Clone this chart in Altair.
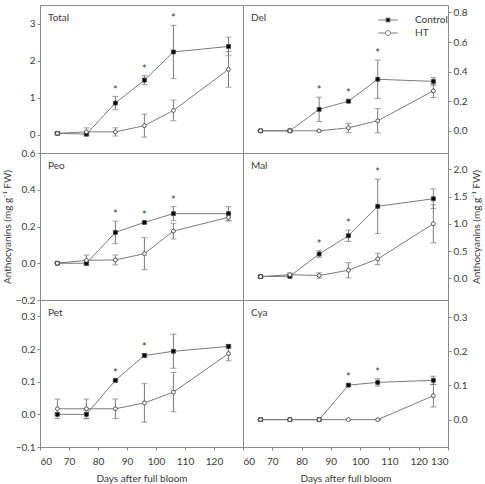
import altair as alt
import pandas as pd

# Sampling dates (days after full bloom)
days = [66, 76, 86, 96, 106, 125]

panel_names = ["Total", "Del", "Peo", "Mal", "Pet", "Cya"]

# Mean anthocyanin content (mg g-1 FW) and standard deviations
control_mean = {
    "Total": [0.03, 0.01, 0.85, 1.47, 2.23, 2.38],
    "Del":   [0.0, 0.0, 0.145, 0.20, 0.348, 0.334],
    "Peo":   [0.0, 0.0, 0.168, 0.222, 0.27, 0.27],
    "Mal":   [0.03, 0.035, 0.445, 0.78, 1.32, 1.46],
    "Pet":   [0.0, 0.0, 0.104, 0.18, 0.193, 0.208],
    "Cya":   [0.0, 0.0, 0.0, 0.101, 0.109, 0.115],
}
control_sd = {
    "Total": [0.02, 0.02, 0.18, 0.12, 0.72, 0.25],
    "Del":   [0.0, 0.0, 0.082, 0.01, 0.13, 0.026],
    "Peo":   [0.0, 0.005, 0.061, 0.005, 0.038, 0.038],
    "Mal":   [0.02, 0.02, 0.06, 0.105, 0.5, 0.18],
    "Pet":   [0.0, 0.013, 0.003, 0.006, 0.052, 0.005],
    "Cya":   [0.0, 0.0, 0.0, 0.003, 0.011, 0.012],
}
ht_mean = {
    "Total": [0.03, 0.07, 0.07, 0.24, 0.65, 1.76],
    "Del":   [0.0, 0.0, 0.0, 0.02, 0.068, 0.27],
    "Peo":   [0.0, 0.016, 0.018, 0.052, 0.175, 0.25],
    "Mal":   [0.03, 0.065, 0.05, 0.146, 0.354, 1.0],
    "Pet":   [0.017, 0.017, 0.017, 0.035, 0.068, 0.186],
    "Cya":   [0.0, 0.0, 0.0, 0.0, 0.0, 0.07],
}
ht_sd = {
    "Total": [0.02, 0.11, 0.11, 0.31, 0.28, 0.48],
    "Del":   [0.0, 0.0, 0.0, 0.03, 0.082, 0.045],
    "Peo":   [0.0, 0.029, 0.027, 0.087, 0.043, 0.02],
    "Mal":   [0.02, 0.03, 0.05, 0.14, 0.105, 0.35],
    "Pet":   [0.03, 0.03, 0.03, 0.059, 0.06, 0.022],
    "Cya":   [0.0, 0.0, 0.0, 0.0, 0.0, 0.033],
}
# Dates with a significant Control vs HT difference
significant_days = {
    "Total": [86, 96, 106],
    "Del":   [86, 96, 106],
    "Peo":   [86, 96, 106],
    "Mal":   [86, 96, 106],
    "Pet":   [86, 96],
    "Cya":   [96, 106],
}
y_domains = {
    "Total": [-0.5, 3.5],
    "Del":   [-0.15, 0.85],
    "Peo":   [-0.2, 0.6],
    "Mal":   [-0.4, 2.3],
    "Pet":   [-0.1, 0.35],
    "Cya":   [-0.08, 0.35],
}
y_ticks = {
    "Total": [0, 1, 2, 3],
    "Del":   [0.0, 0.2, 0.4, 0.6, 0.8],
    "Peo":   [-0.2, 0.0, 0.2, 0.4, 0.6],
    "Mal":   [0.0, 0.5, 1.0, 1.5, 2.0],
    "Pet":   [-0.1, 0.0, 0.1, 0.2, 0.3],
    "Cya":   [0.0, 0.1, 0.2, 0.3],
}
x_ticks_left = [60, 70, 80, 90, 100, 110, 120]
x_ticks_right = [60, 70, 80, 90, 100, 110, 120, 130]

y_title = "Anthocyanins (mg g\u207b\u00b9 FW)"
x_title = "Days after full bloom"

FONT = "Lato"
FS = 10
GREY = "#8a8a8a"
LINE_GREY = "#7a7a7a"
TEXT = "#3a3a3a"

# Legend symbols: a short line with the marker in the middle
control_sym = "M-1.5,0H-0.3M0.3,0H1.5M-0.3,-0.3H0.3V0.3H-0.3Z"
ht_sym = ("M-1.5,0H-0.38M0.38,0H1.5M-0.38,0A0.38,0.38 0 1,0 0.38,0"
          "A0.38,0.38 0 1,0 -0.38,0Z")

series_domain = ["Control", "HT"]
fill_scale = alt.Scale(domain=series_domain, range=["#000000", "#ffffff"])


def panel_frame(name):
    rows = []
    for series, means, sds in (("Control", control_mean, control_sd),
                               ("HT", ht_mean, ht_sd)):
        for d, m, s in zip(days, means[name], sds[name]):
            rows.append({"day": d, "value": m, "lo": m - s, "hi": m + s,
                         "series": series})
    return pd.DataFrame(rows)


def star_frame(name):
    lo, hi = y_domains[name]
    offset = 0.06 * (hi - lo)
    rows = []
    for d in significant_days[name]:
        i = days.index(d)
        top = max(control_mean[name][i] + control_sd[name][i],
                  ht_mean[name][i] + ht_sd[name][i])
        rows.append({"day": d, "pos": top + offset, "mark": "*"})
    return pd.DataFrame(rows)


def make_panel(idx):
    name = panel_names[idx]
    right = idx % 2 == 1
    bottom = idx >= 4
    width = 205 if right else 203
    height = 148 if idx < 2 else 147

    if bottom:
        x_axis = alt.Axis(values=x_ticks_right if right else x_ticks_left,
                          tickCount=20, title=x_title, grid=False, tickSize=3,
                          labelPadding=6, titlePadding=7, format="d",
                          labelOverlap=False)
    else:
        x_axis = None
    x_enc = alt.X("day:Q", scale=alt.Scale(domain=[60, 130], nice=False, zero=False),
                  axis=x_axis)

    y_axis = alt.Axis(values=y_ticks[name], tickCount=20,
                      orient="right" if right else "left",
                      format="d" if name == "Total" else ".1f",
                      title=y_title if name in ("Peo", "Mal") else None,
                      titleAngle=270, titleBaseline="top" if right else "bottom",
                      grid=False, tickSize=3, labelPadding=2,
                      titlePadding=5 if right else 3, labelOverlap=False)
    y_scale = alt.Scale(domain=y_domains[name], nice=False, zero=False)

    df = panel_frame(name)
    base = alt.Chart(df)

    line = base.mark_line(color=LINE_GREY, strokeWidth=1).encode(
        x=x_enc, y=alt.Y("value:Q", scale=y_scale, axis=y_axis),
        detail="series:N")
    bars = base.mark_rule(color=LINE_GREY, strokeWidth=1).encode(
        x="day:Q", y="lo:Q", y2="hi:Q")
    cap_lo = base.mark_tick(color=LINE_GREY, orient="horizontal", size=6,
                            thickness=1).encode(x="day:Q", y="lo:Q")
    cap_hi = base.mark_tick(color=LINE_GREY, orient="horizontal", size=6,
                            thickness=1).encode(x="day:Q", y="hi:Q")
    pts = base.mark_point(size=15, strokeWidth=0.9, opacity=1,
                          stroke="#444444").encode(
        x="day:Q", y="value:Q",
        shape=alt.Shape("series:N", scale=alt.Scale(domain=series_domain,
                                                     range=["square", "circle"]),
                        legend=None),
        fill=alt.Fill("series:N", scale=fill_scale, legend=None),
        order=alt.Order("series:N"))

    stars = alt.Chart(star_frame(name)).mark_text(
        font=FONT, fontSize=11, color=TEXT, baseline="middle", dy=3).encode(
        x="day:Q", y="pos:Q", text="mark:N")

    label = alt.Chart(pd.DataFrame({"name": [name]})).mark_text(
        font=FONT, fontSize=FS, color=TEXT, align="left", baseline="middle").encode(
        x=alt.value(8), y=alt.value(13), text="name:N")

    layers = [line, bars, cap_lo, cap_hi, pts, stars, label]

    if name == "Del":
        # Key for the two treatments; its own points lie outside the x domain
        leg_spec = alt.Legend(title=None, orient="none", legendX=138, legendY=8,
                              symbolSize=169, symbolStrokeWidth=1,
                              labelFont=FONT, labelFontSize=FS,
                              labelColor=TEXT, labelOffset=20, rowPadding=1,
                              padding=0)
        legend_df = pd.DataFrame({"series": series_domain, "day": [0, 0],
                                  "value": [0, 0]})
        leg = alt.Chart(legend_df).mark_point(
            size=169, opacity=1, filled=False, strokeWidth=1, clip=True).encode(
            x="day:Q", y="value:Q",
            shape=alt.Shape("series:N", scale=alt.Scale(domain=series_domain,
                                                         range=[control_sym, ht_sym]),
                            legend=leg_spec),
            fill=alt.Fill("series:N", scale=fill_scale, legend=leg_spec),
            stroke=alt.Stroke("series:N",
                              scale=alt.Scale(domain=series_domain,
                                              range=[LINE_GREY, LINE_GREY]),
                              legend=leg_spec),
        )
        layers.append(leg)
        return alt.layer(*layers).resolve_scale(
            shape="independent", fill="independent", stroke="independent"
        ).properties(width=width, height=height)

    return alt.layer(*layers).properties(width=width, height=height)


panels = [make_panel(i) for i in range(6)]

# Fixed page: the first panel's plot area starts at (40, 5)
chart = alt.concat(*panels, columns=2, spacing=0, bounds="flush").properties(
    autosize=alt.AutoSizeParams(type="none"),
    padding={"left": 40, "top": 5, "right": 445, "bottom": 479}
).configure_view(
    stroke=GREY, strokeWidth=1
).configure_axis(
    domainColor=GREY, tickColor=GREY, labelColor=TEXT, titleColor=TEXT,
    labelFont=FONT, titleFont=FONT, labelFontSize=FS, titleFontSize=FS,
    titleFontWeight="normal"
)

chart.save("out.html", embed_options={"renderer": "svg", "actions": False})
